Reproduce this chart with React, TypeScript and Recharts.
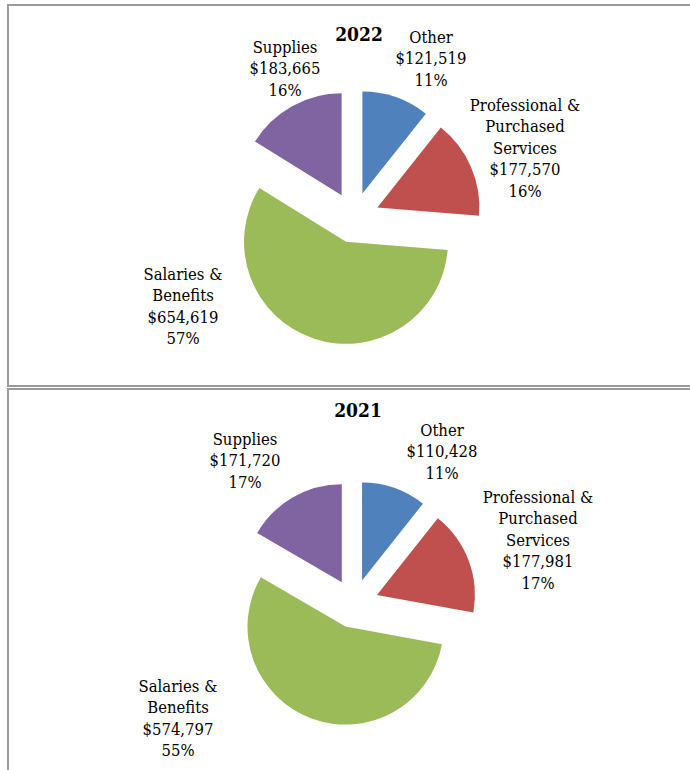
import { PieChart, Pie, Cell, Sector } from 'recharts';

// slice order = clockwise from 12 o'clock
const CATEGORIES = ['Other', 'Professional &\nPurchased\nServices', 'Salaries &\nBenefits', 'Supplies'];
const COLORS = ['#4f81bd', '#c0504d', '#9bbb59', '#8064a2'];

const VALUES_2022 = [121519, 177570, 654619, 183665];
const PCT_2022 = ['11%', '16%', '57%', '16%'];

const VALUES_2021 = [110428, 177981, 574797, 171720];
const PCT_2021 = ['11%', '17%', '55%', '17%'];

const FONT = "'DejaVu Serif Condensed', 'DejaVu Serif', serif";
const LINE_H = 21.5;
const RAD = Math.PI / 180;

// first-baseline offset of each label from the pie centre
const LABEL_POS_2022 = [[77, -175], [171, -107], [-171, 62], [-69, -165]];
const LABEL_POS_2021 = [[88, -168], [184, -101], [-176, 88], [-109, -159]];

function explodedSector(props: any) {
  const { cx, cy, midAngle, outerRadius } = props;
  const off = outerRadius * 0.25;
  const dx = off * Math.cos(-midAngle * RAD);
  const dy = off * Math.sin(-midAngle * RAD);
  return <Sector {...props} cx={cx + dx} cy={cy + dy} stroke="none" />;
}

function makeLabel(pcts: string[], pos: number[][]) {
  return (props: any) => {
    const { cx, cy, index, value } = props;
    const lines = [...CATEGORIES[index].split('\n'), '$' + value.toLocaleString('en-US'), pcts[index]];
    const [ox, oy] = pos[index];
    return (
      <text
        key={`lbl-${index}`}
        x={cx + ox}
        y={cy + oy}
        textAnchor="middle"
        fill="#000"
        fontFamily={FONT}
        fontSize={16.5}
        style={{ fontStretch: 'condensed' }}
      >
        {lines.map((ln, i) => (
          <tspan key={i} x={cx + ox} dy={i === 0 ? 0 : LINE_H}>{ln}</tspan>
        ))}
      </text>
    );
  };
}

interface ChartProps {
  top: number;
  height: number;
  title: string;
  titleX: number;
  titleY: number;
  values: number[];
  pcts: string[];
  labelPos: number[][];
  radius: number;
}

function YearPie({ top, height, title, titleX, titleY, values, pcts, labelPos, radius }: ChartProps) {
  const data = CATEGORIES.map((c, i) => ({ name: c, value: values[i] }));
  return (
    <div style={{ position: 'absolute', left: 0, top, width: 690, height }}>
      <PieChart width={690} height={height} margin={{ top: 0, right: 0, bottom: 0, left: 0 }}>
        <Pie
          data={data}
          dataKey="value"
          cx={354}
          cy={217.6}
          outerRadius={radius}
          startAngle={90}
          endAngle={-270}
          stroke="none"
          shape={explodedSector}
          activeShape={explodedSector}
          inactiveShape={explodedSector}
          label={makeLabel(pcts, labelPos)}
          labelLine={false}
          isAnimationActive={false}
        >
          {data.map((d, i) => (
            <Cell key={d.name} fill={COLORS[i]} />
          ))}
        </Pie>
      </PieChart>
      <svg width={690} height={height} style={{ position: 'absolute', left: 0, top: 0, pointerEvents: 'none' }}>
        <text
          x={titleX}
          y={titleY}
          textAnchor="middle"
          fontFamily={FONT}
          fontWeight="bold"
          fontSize={19}
          style={{ fontStretch: 'condensed' }}
        >
          {title}
        </text>
      </svg>
    </div>
  );
}

export default function App() {
  const panel = {
    position: 'absolute' as const,
    left: 7,
    width: 720,
    border: '2px solid #9a9a9a',
    boxSizing: 'border-box' as const,
    background: '#fff',
  };
  return (
    <div style={{ position: 'absolute', left: 0, top: 0, width: 690, height: 770, overflow: 'hidden', background: '#fff' }}>
      <div style={{ ...panel, top: 4, height: 383 }} />
      <div style={{ ...panel, top: 388, height: 400 }} />
      <YearPie
        top={0}
        height={386}
        title="2022"
        titleX={359}
        titleY={41}
        values={VALUES_2022}
        pcts={PCT_2022}
        labelPos={LABEL_POS_2022}
        radius={102}
      />
      <YearPie
        top={386}
        height={384}
        title="2021"
        titleX={358}
        titleY={31}
        values={VALUES_2021}
        pcts={PCT_2021}
        labelPos={LABEL_POS_2021}
        radius={98}
      />
    </div>
  );
}
